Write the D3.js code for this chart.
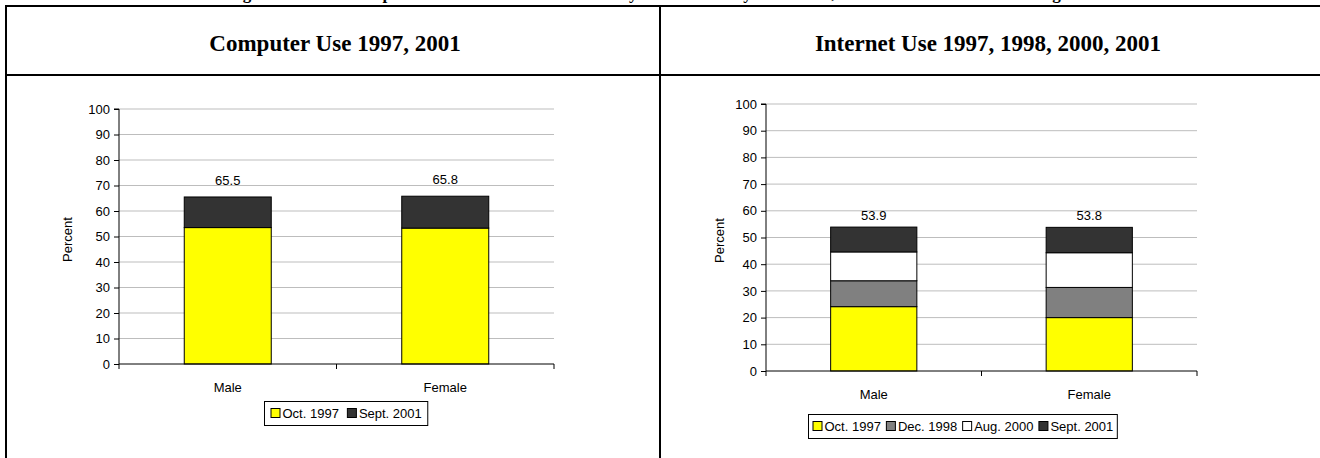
<!DOCTYPE html>
<html><head><meta charset="utf-8">
<script src="https://cdn.jsdelivr.net/npm/d3@7"></script>
<style>body{margin:0;background:#fff} svg{display:block}</style>
</head><body><svg id="c" width="1320" height="458"></svg>
<script>
// ---------- data ----------
const figureTitle = "Figure 1-4. Computer and Internet Use by Persons by Gender, Percent of Persons Age 3+";
const panelTitles = ["Computer Use 1997, 2001", "Internet Use 1997, 1998, 2000, 2001"];
const categories = ["Male", "Female"];
const yTickValues = [0, 10, 20, 30, 40, 50, 60, 70, 80, 90, 100];
const axisTitle = "Percent";

const computerSeriesNames = ["Oct. 1997", "Sept. 2001"];
const computerOct1997 = [53.5, 53.3];
const computerSept2001 = [12.0, 12.5];
const computerTotalLabels = ["65.5", "65.8"];

const internetSeriesNames = ["Oct. 1997", "Dec. 1998", "Aug. 2000", "Sept. 2001"];
const internetOct1997 = [24.1, 20.0];
const internetDec1998 = [9.7, 11.3];
const internetAug2000 = [10.8, 13.0];
const internetSept2001 = [9.3, 9.5];
const internetTotalLabels = ["53.9", "53.8"];

// ---------- styles ----------
const computerColors = ["#ffff00", "#333333"];
const internetColors = ["#ffff00", "#808080", "#ffffff", "#333333"];
const SANS = "'Liberation Sans', Arial, sans-serif";
const SERIF = "'Liberation Serif', 'Times New Roman', serif";

const svg = d3.select("#c");
svg.append("rect").attr("width", 1320).attr("height", 458).attr("fill", "#fff");

// figure title (cut off at the top, as in the source)
svg.append("text").attr("x", 222).attr("y", -1)
  .attr("font-family", SERIF).attr("font-weight", "bold").attr("font-size", 17)
  .attr("textLength", 880).attr("lengthAdjust", "spacing")
  .text(figureTitle);

// table frame
const frame = svg.append("g").attr("stroke", "#000").attr("stroke-width", 2);
frame.append("line").attr("x1", 5).attr("x2", 1320).attr("y1", 6).attr("y2", 6);
frame.append("line").attr("x1", 5).attr("x2", 1320).attr("y1", 75).attr("y2", 75);
frame.append("line").attr("x1", 6).attr("x2", 6).attr("y1", 5).attr("y2", 458);
frame.append("line").attr("x1", 660).attr("x2", 660).attr("y1", 5).attr("y2", 458);

// panel titles
[[335, panelTitles[0]], [988, panelTitles[1]]].forEach(([cx, t]) => {
  svg.append("text").attr("x", cx).attr("y", 51).attr("text-anchor", "middle")
    .attr("font-family", SERIF).attr("font-weight", "bold").attr("font-size", 23)
    .text(t);
});

function drawChart(cfg) {
  const g = svg.append("g");
  const x = d3.scaleBand().domain(categories).range([cfg.x0, cfg.x1])
    .paddingInner(0.6).paddingOuter(0.3);
  const y = d3.scaleLinear().domain([0, 100]).range([cfg.yb, cfg.yt]);

  // gridlines
  g.append("g").selectAll("line").data(yTickValues.filter(v => v > 0)).join("line")
    .attr("x1", cfg.x0).attr("x2", cfg.x1)
    .attr("y1", d => y(d)).attr("y2", d => y(d))
    .attr("stroke", "#bdbdbd").attr("stroke-width", 1);

  // stacked bars
  const rows = categories.map((c, i) => {
    const r = { cat: c };
    cfg.seriesNames.forEach((s, j) => r[s] = cfg.seriesValues[j][i]);
    return r;
  });
  const stack = d3.stack().keys(cfg.seriesNames)(rows);
  stack.forEach((layer, j) => {
    g.append("g").selectAll("rect").data(layer).join("rect")
      .attr("x", d => x(d.data.cat)).attr("width", x.bandwidth())
      .attr("y", d => y(d[1])).attr("height", d => y(d[0]) - y(d[1]))
      .attr("fill", cfg.colors[j]).attr("stroke", "#000").attr("stroke-width", 1);
  });

  // total labels
  const last = stack[stack.length - 1];
  g.append("g").selectAll("text").data(last).join("text")
    .attr("x", d => x(d.data.cat) + x.bandwidth() / 2)
    .attr("y", d => y(d[1]) - cfg.labelGap)
    .attr("text-anchor", "middle").attr("font-family", SANS).attr("font-size", 13)
    .text((d, i) => cfg.totals[i]);

  // y axis
  const ya = g.append("g").attr("transform", `translate(${cfg.x0},0)`)
    .call(d3.axisLeft(y).tickValues(yTickValues).tickSize(5).tickPadding(4).tickFormat(d3.format("d")));
  ya.select(".domain").attr("stroke", "#000").attr("d", `M-5,${cfg.yt}H0V${cfg.yb}`);
  ya.selectAll(".tick line").attr("stroke", "#000");
  ya.selectAll(".tick text").attr("font-family", SANS).attr("font-size", 13).attr("fill", "#000");

  // x axis with boundary ticks
  const xa = g.append("g").attr("transform", `translate(0,${cfg.yb})`);
  xa.append("line").attr("x1", cfg.x0).attr("x2", cfg.x1).attr("stroke", "#000");
  const bounds = [cfg.x0, x(categories[1]) - x.step() * x.paddingInner() / 2, cfg.x1];
  xa.selectAll(".bt").data(bounds).join("line").attr("class", "bt")
    .attr("x1", d => d).attr("x2", d => d).attr("y1", 0).attr("y2", 5).attr("stroke", "#000");
  xa.selectAll(".cl").data(categories).join("text").attr("class", "cl")
    .attr("x", d => x(d) + x.bandwidth() / 2).attr("y", cfg.catY - cfg.yb)
    .attr("text-anchor", "middle").attr("font-family", SANS).attr("font-size", 13)
    .text(d => d);

  // axis title
  g.append("text").attr("transform", `translate(${cfg.titleX},${(cfg.yt + cfg.yb) / 2 + 3}) rotate(-90)`)
    .attr("text-anchor", "middle").attr("font-family", SANS).attr("font-size", 13).text(axisTitle);

  // legend
  const lg = g.append("g");
  const box = lg.append("rect").attr("fill", "#fff").attr("stroke", "#000").attr("stroke-width", 1);
  let cx = 0;
  const items = lg.append("g");
  cfg.seriesNames.forEach((s, j) => {
    items.append("rect").attr("x", cx + 0.5).attr("y", -9.5).attr("width", 9).attr("height", 9)
      .attr("fill", cfg.colors[j]).attr("stroke", "#000").attr("stroke-width", 1);
    const t = items.append("text").attr("x", cx + 12).attr("y", 0)
      .attr("font-family", SANS).attr("font-size", 13).text(s);
    cx += 12 + t.node().getComputedTextLength() + cfg.legendGap;
  });
  const w = cx - cfg.legendGap;
  const bw = w + 2 * cfg.legendPad;
  const bx = Math.round(cfg.legendCx - bw / 2) + 0.5;
  box.attr("x", bx).attr("y", cfg.legendTop + 0.5).attr("width", bw).attr("height", cfg.legendH);
  items.attr("transform", `translate(${bx + cfg.legendPad},${cfg.legendTop + cfg.legendH / 2 + 5})`);
}

drawChart({
  x0: 119, x1: 554, yt: 109, yb: 364,
  seriesNames: computerSeriesNames,
  seriesValues: [computerOct1997, computerSept2001],
  colors: computerColors, totals: computerTotalLabels, labelGap: 12,
  catY: 392, titleX: 72, legendCx: 346, legendTop: 401, legendH: 24,
  legendGap: 8, legendPad: 6
});
drawChart({
  x0: 766, x1: 1197, yt: 104, yb: 371,
  seriesNames: internetSeriesNames,
  seriesValues: [internetOct1997, internetDec1998, internetAug2000, internetSept2001],
  colors: internetColors, totals: internetTotalLabels, labelGap: 7,
  catY: 399, titleX: 724, legendCx: 962, legendTop: 414, legendH: 24,
  legendGap: 5, legendPad: 4
});
</script></body></html>
